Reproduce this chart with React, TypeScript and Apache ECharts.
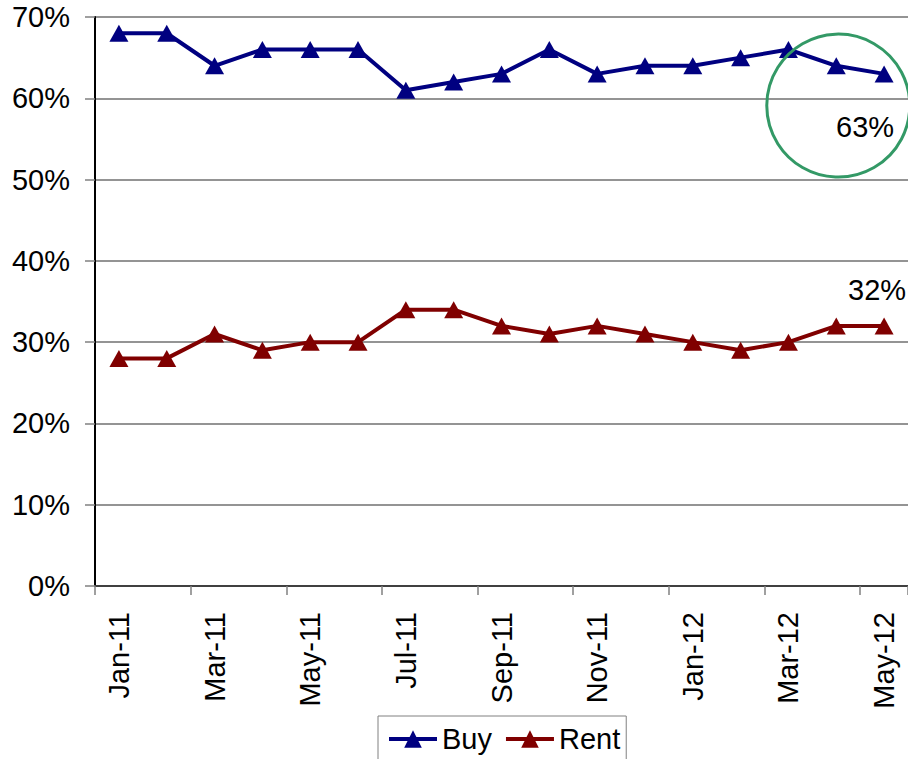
import React, { useEffect, useRef } from "react";
import * as echarts from "echarts";

const categories = [
  "Jan-11", "Feb-11", "Mar-11", "Apr-11", "May-11", "Jun-11", "Jul-11", "Aug-11", "Sep-11",
  "Oct-11", "Nov-11", "Dec-11", "Jan-12", "Feb-12", "Mar-12", "Apr-12", "May-12",
];
const buyValues = [68, 68, 64, 66, 66, 66, 61, 62, 63, 66, 63, 64, 64, 65, 66, 64, 63];
const rentValues = [28, 28, 31, 29, 30, 30, 34, 34, 32, 31, 32, 31, 30, 29, 30, 32, 32];
const yTicks = [0, 10, 20, 30, 40, 50, 60, 70];

const FONT = "Liberation Sans, Arial, sans-serif";
const FS = 29;

export default function App() {
  const ref = useRef<HTMLDivElement>(null);
  useEffect(() => {
    document.body.style.margin = "0";
    if (!ref.current) return;
    const chart = echarts.init(ref.current, undefined, { renderer: "svg" });
    const last = categories.length - 1;
    const withLast = (arr: number[], label: any) =>
      arr.map((v, i) => (i === last ? { value: v, label } : v));
    chart.setOption({
      animation: false,
      textStyle: { fontFamily: FONT },
      grid: { left: 95, top: 17, right: 0, bottom: 173, containLabel: false },
      xAxis: {
        type: "category",
        data: categories,
        boundaryGap: true,
        axisLine: { lineStyle: { color: "#404040", width: 2 } },
        axisTick: { show: true, interval: 1, length: 9, lineStyle: { color: "#808080", width: 1.5 } },
        axisLabel: {
          interval: 1,
          rotate: 90,
          margin: 26,
          fontSize: FS,
          color: "#000",
          fontFamily: FONT,
        },
      },
      yAxis: {
        type: "value",
        min: yTicks[0],
        max: yTicks[yTicks.length - 1],
        interval: 10,
        axisLine: { show: true, lineStyle: { color: "#000", width: 2 } },
        axisTick: { show: true, length: 10, lineStyle: { color: "#808080", width: 1.5 } },
        axisLabel: {
          formatter: "{value}%",
          fontSize: FS,
          color: "#000",
          margin: 25,
          fontFamily: FONT,
        },
        splitLine: { show: true, lineStyle: { color: "#707070", width: 1.5 } },
      },
      legend: {
        left: 378,
        top: 716,
        orient: "horizontal",
        padding: [8, 6, 8, 9],
        itemGap: 12,
        itemWidth: 48,
        itemHeight: 22,
        borderColor: "#808080",
        borderWidth: 1,
        lineStyle: { width: 4 },
        textStyle: { fontSize: FS, color: "#000", fontFamily: FONT, lineHeight: 30 },
        data: ["Buy", "Rent"],
      },
      series: [
        {
          name: "Buy",
          type: "line",
          data: withLast(buyValues, {
            show: true,
            position: "inside",
            offset: [-19, 53],
            formatter: "{c}%",
            fontSize: FS,
            color: "#000",
            fontFamily: FONT,
          }),
          symbol: "triangle",
          symbolSize: [19, 17],
          lineStyle: { color: "#000080", width: 4 },
          itemStyle: { color: "#000080" },
        },
        {
          name: "Rent",
          type: "line",
          data: withLast(rentValues, {
            show: true,
            position: "inside",
            offset: [-7, -36],
            formatter: "{c}%",
            fontSize: FS,
            color: "#000",
            fontFamily: FONT,
          }),
          symbol: "triangle",
          symbolSize: [19, 17],
          lineStyle: { color: "#800000", width: 4 },
          itemStyle: { color: "#800000" },
        },
      ],
    });
    const c = chart.convertToPixel({ gridIndex: 0 }, [categories.length - 2, 59.1]) as number[];
    chart.setOption({
      graphic: [
        {
          type: "circle",
          shape: { cx: c[0] + 2, cy: c[1], r: 71.5 },
          style: { fill: "none", stroke: "#339966", lineWidth: 3 },
          z: 100,
        },
      ],
    });
    return () => chart.dispose();
  }, []);
  return <div ref={ref} style={{ width: 908, height: 759 }} />;
}
